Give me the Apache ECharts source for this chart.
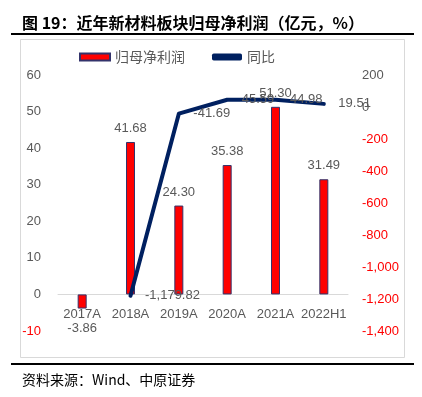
<!DOCTYPE html>
<html>
<head>
<meta charset="utf-8">
<script src="https://cdn.jsdelivr.net/npm/echarts@6/dist/echarts.min.js"></script>
<style>
html,body{margin:0;padding:0;background:#fff;}
#c{width:422px;height:397px;}
</style>
</head>
<body>
<div id="c"></div>
<script>
var categories = ['2017A', '2018A', '2019A', '2020A', '2021A', '2022H1'];
var profitValues = [-3.86, 41.68, 24.30, 35.38, 51.30, 31.49];
var yoyValues = [null, -1179.82, -41.69, 45.59, 44.98, 19.51];
var seriesNames = ['归母净利润', '同比'];
var titleText = '图 19：近年新材料板块归母净利润（亿元，%）';
var sourceText = '资料来源：Wind、中原证券';

var NUM_FONT = '"Liberation Sans", Arial, sans-serif';
var CJK_FONT = '"Noto Sans CJK SC", sans-serif';
var GREY = '#595959';
var RED = '#FF0000';

function fmtThousands(v, dec) {
  var s = Math.abs(v).toFixed(dec);
  var parts = s.split('.');
  parts[0] = parts[0].replace(/\B(?=(\d{3})+(?!\d))/g, ',');
  return (v < 0 ? '-' : '') + parts.join('.');
}

var chart = echarts.init(document.getElementById('c'), null, {renderer: 'canvas'});

var gridTop = 75, gridBottom = 66, gridH = 397 - gridTop - gridBottom;
var leftMin = -10, leftMax = 60;
// place the category axis on the left axis' zero line
var zeroOffset = -gridH * (0 - leftMin) / (leftMax - leftMin);

var option = {
  animation: false,
  backgroundColor: '#fff',
  grid: {left: 58, right: 74, top: gridTop, bottom: gridBottom, containLabel: false},
  legend: {
    left: 74,
    top: 45,
    itemWidth: 30,
    itemHeight: 7,
    itemGap: 27,
    textStyle: {fontFamily: CJK_FONT, fontSize: 14, color: GREY},
    data: [
      {name: seriesNames[0], icon: 'rect'},
      {name: seriesNames[1], icon: 'roundRect'}
    ]
  },
  xAxis: {
    type: 'category',
    data: categories,
    offset: zeroOffset,
    axisLine: {onZero: false, lineStyle: {color: '#D9D9D9', width: 1}},
    axisTick: {show: false},
    axisLabel: {interval: 0, fontFamily: NUM_FONT, fontSize: 13, color: GREY, margin: 13},
    splitLine: {show: false}
  },
  yAxis: [
    {
      type: 'value',
      min: leftMin, max: leftMax, interval: 10,
      axisLine: {show: false},
      axisTick: {show: false},
      splitLine: {show: false},
      axisLabel: {
        margin: 17,
        formatter: function (v) { return v < 0 ? '{r|' + v + '}' : '{g|' + v + '}'; },
        rich: {
          r: {fontFamily: NUM_FONT, fontSize: 13, color: RED},
          g: {fontFamily: NUM_FONT, fontSize: 13, color: GREY}
        }
      }
    },
    {
      type: 'value',
      min: -1400, max: 200, interval: 200,
      axisLine: {show: false},
      axisTick: {show: false},
      splitLine: {show: false},
      axisLabel: {
        margin: 14,
        formatter: function (v) {
          var t = fmtThousands(v, 0);
          return v < 0 ? '{r|' + t + '}' : '{g|' + t + '}';
        },
        rich: {
          r: {fontFamily: NUM_FONT, fontSize: 13, color: RED},
          g: {fontFamily: NUM_FONT, fontSize: 13, color: GREY}
        }
      }
    }
  ],
  series: [
    {
      name: seriesNames[0],
      type: 'bar',
      yAxisIndex: 0,
      barWidth: 9,
      itemStyle: {color: RED, borderColor: '#33336B', borderWidth: 1},
      label: {
        show: true,
        distance: 7,
        fontFamily: NUM_FONT, fontSize: 13, color: GREY,
        formatter: function (p) { return p.value.toFixed(2); }
      },
      data: profitValues.map(function (v) {
        return {value: v, label: {position: v < 0 ? 'bottom' : 'top', distance: v < 0 ? 13 : 7}};
      }),
      z: 2
    },
    {
      name: seriesNames[1],
      type: 'line',
      yAxisIndex: 1,
      symbol: 'circle',
      symbolSize: 1,
      showSymbol: true,
      itemStyle: {color: '#002060'},
      lineStyle: {color: '#002060', width: 4, cap: 'round', join: 'round'},
      label: {
        show: true,
        position: 'right',
        distance: 14,
        fontFamily: NUM_FONT, fontSize: 13, color: GREY,
        formatter: function (p) { return fmtThousands(p.value, 2); }
      },
      data: yoyValues,
      z: 3
    }
  ],
  graphic: [
    {
      type: 'text', left: 22, top: 15,
      style: {text: titleText, font: 'bold 16px ' + CJK_FONT, fill: '#000'}
    },
    {
      type: 'line', shape: {x1: 11, y1: 34, x2: 414, y2: 34},
      style: {stroke: '#000', lineWidth: 2}
    },
    {
      type: 'rect', shape: {x: 20.5, y: 39.5, width: 384, height: 318},
      style: {fill: 'none', stroke: '#D9D9D9', lineWidth: 1}, z: -1
    },
    {
      type: 'line', shape: {x1: 11, y1: 364, x2: 414, y2: 364},
      style: {stroke: '#000', lineWidth: 2}
    },
    {
      type: 'text', left: 22, top: 373,
      style: {text: sourceText, font: '14px ' + CJK_FONT, fill: '#000'}
    }
  ]
};
chart.setOption(option);
</script>
</body>
</html>
